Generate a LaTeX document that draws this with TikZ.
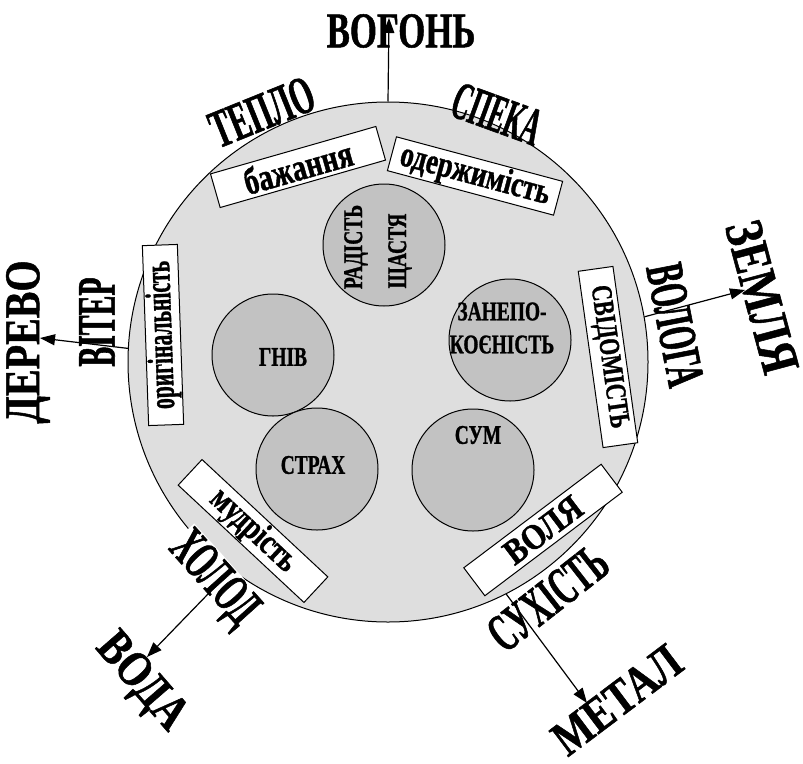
\documentclass[tikz,border=0pt]{standalone}
\usepackage{fontspec}
\usepackage{tikz}
\usetikzlibrary{arrows.meta}
\newfontfamily\stykhiia[FakeStretch=0.8, FakeBold=1]{Liberation Serif Bold}
\newfontfamily\pora[FakeStretch=0.55, FakeBold=1]{Liberation Serif Bold}
\newfontfamily\ryska[FakeStretch=0.75, FakeBold=1]{Liberation Serif Bold}
\newfontfamily\emotsiia[FakeStretch=0.72, FakeBold=1]{Liberation Serif Bold}
\definecolor{kolosvitle}{gray}{0.87}
\definecolor{kolotemne}{gray}{0.76}

\begin{document}
\begin{tikzpicture}[x=1pt, y=-1pt,
    stykhiia/.style={inner sep=0pt, font=\fontsize{50}{50}\stykhiia},
    pora/.style={inner sep=1pt, font=\fontsize{54}{54}\pora},
    ryska/.style={draw, fill=white, line width=1pt, inner sep=0pt, minimum width=172pt, minimum height=35pt, font=\fontsize{36}{36}\ryska},
    emo/.style={draw, circle, fill=kolotemne, line width=1pt, minimum size=122pt},
    emotxt/.style={inner sep=0pt, align=center, font=\fontsize{27}{33}\emotsiia},
    strilka/.style={line width=1.2pt, -{Triangle[length=15pt, width=11pt]}}]
    \useasboundingbox (0,0) rectangle (803,763);
    \node[draw, circle, fill=kolosvitle, line width=1pt, minimum size=520pt] (kolo) at (388,362) {};

    \node[emo] (radist) at (384,245) {};
    \node[emo] (hniv) at (273,355) {};
    \node[emo] (zanepokoienist) at (510,340) {};
    \node[emo] (sum) at (473,470) {};
    \node[emo] (strakh) at (317,469) {};
    \node[emotxt, rotate=90] (radist-t) at (356,247) {РАДІСТЬ};
    \node[emotxt, rotate=90] (shchastia-t) at (400,251) {ЩАСТЯ};
    \node[emotxt] (hniv-t) at (283,357) {ГНІВ};
    \node[emotxt] (zanepokoienist-t) at (502,328) {ЗАНЕПО-\\КОЄНІСТЬ};
    \node[emotxt] (sum-t) at (478,435) {СУМ};
    \node[emotxt] (strakh-t) at (313,465) {СТРАХ};

    \node[ryska, rotate=16] (bazhannia) at (298,167) {\fontsize{38}{38}\selectfont бажання};
    \node[ryska, rotate=-15] (oderzhymist) at (475,176) {одержимість};
    \node[ryska, rotate=92, minimum width=180pt] (oryhinalnist) at (163,335) {\scalebox{0.8}[1]{оригінальність}};
    \node[ryska, rotate=-82, minimum width=178pt, font=\fontsize{29}{29}\ryska] (svidomist) at (608,357) {СВІДОМІСТЬ};
    \node[ryska, rotate=-43] (mudrist) at (253,531) {мудрість};
    \node[ryska, rotate=37, font=\fontsize{36}{36}\ryska] (volia) at (543,530) {\scalebox{1.15}[1]{ВОЛЯ}};

    \node[pora, rotate=22] (teplo) at (262,112) {ТЕПЛО};
    \node[pora, rotate=-20] (speka) at (497,114) {\scalebox{0.85}[1]{СПЕКА}};
    \node[pora, rotate=90] (viter) at (97,322) {ВІТЕР};
    \node[pora, rotate=-79] (vologa) at (675,325) {ВОЛОГА};
    \node[pora, rotate=-48, fill=white] (kholod) at (212,580) {ХОЛОД};
    \node[pora, rotate=38, fill=white] (sukhist) at (548,598) {СУХІСТЬ};

    \node[stykhiia] (vohon) at (401,31) {\scalebox{0.87}[1]{ВОГОНЬ}};
    \node[stykhiia, rotate=90] (derevo) at (28,342) {ДЕРЕВО};
    \node[stykhiia, rotate=-75] (zemlia) at (762,297) {\fontsize{54}{54}\selectfont ЗЕМЛЯ};
    \node[stykhiia, rotate=-49] (voda) at (140,683) {ВОДА};
    \node[stykhiia, rotate=37] (metal) at (617,700) {МЕТАЛ};

    \coordinate (vohon-k) at (389,18);
    \coordinate (derevo-k) at (40,338);
    \coordinate (zemlia-k) at (745,290);
    \coordinate (voda-k) at (147,657);
    \coordinate (metal-k) at (587,703);
    \draw[strilka] (kolo.90) -- (vohon-k);
    \draw[strilka] (kolo.177) -- (derevo-k);
    \draw[strilka] (kolo.10) -- (zemlia-k);
    \draw[strilka] (kolo.233) -- (voda-k);
    \draw[strilka] (kolo.297) -- (metal-k);
\end{tikzpicture}
\end{document}
